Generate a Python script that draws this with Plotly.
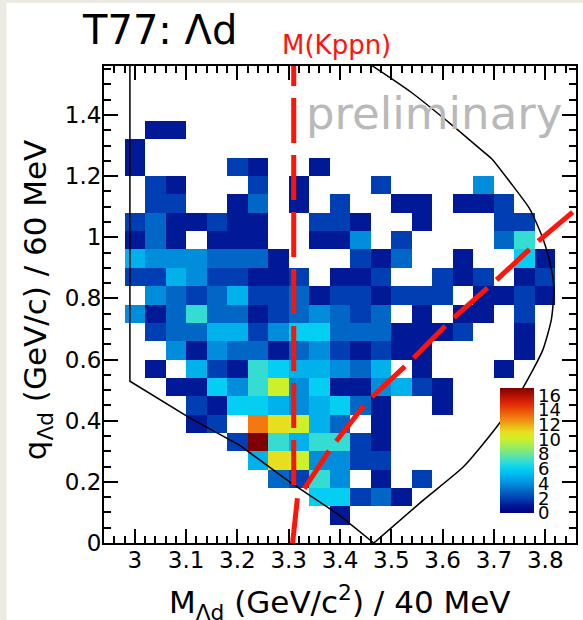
import plotly.graph_objects as go

# ---------------- data ----------------
M_BIN_CENTERS = [2.96, 3.00, 3.04, 3.08, 3.12, 3.16, 3.20, 3.24, 3.28, 3.32, 3.36, 3.40,
                 3.44, 3.48, 3.52, 3.56, 3.60, 3.64, 3.68, 3.72, 3.76, 3.80, 3.84]
Q_BIN_CENTERS = [0.03, 0.09, 0.15, 0.21, 0.27, 0.33, 0.39, 0.45, 0.51, 0.57, 0.63, 0.69, 0.75,
                 0.81, 0.87, 0.93, 0.99, 1.05, 1.11, 1.17, 1.23, 1.29, 1.35, 1.41, 1.47, 1.53]

# counts per q bin, one value per M bin (0 = empty bin)
ROW_Q003 = [0,0,0,0,0,0,0,0,0,0,0,0,0,0,0,0,0,0,0,0,0,0,0]
ROW_Q009 = [0,0,0,0,0,0,0,0,0,0,0,1,0,0,0,0,0,0,0,0,0,0,0]
ROW_Q015 = [0,0,0,0,0,0,0,0,0,0,6,6,2,3,1,0,0,0,0,0,0,0,0]
ROW_Q021 = [0,0,0,0,0,0,0,0,3,2,7,4,0,1,0,2,0,0,0,0,0,0,0]
ROW_Q027 = [0,0,0,0,0,0,0,5,11,10,4,4,2,2,0,0,0,0,0,0,0,0,0]
ROW_Q033 = [0,0,0,0,0,0,2,17,7,5,7,7,2,1,0,0,0,0,0,0,0,0,0]
ROW_Q039 = [0,0,0,0,1,2,0,13,11,10,5,3,0,1,0,0,0,0,0,0,0,0,0]
ROW_Q045 = [0,0,0,0,2,1,6,6,5,4,5,6,3,1,0,0,1,0,0,0,0,0,0]
ROW_Q051 = [0,0,0,1,1,6,4,7,10,4,6,1,1,4,5,2,1,0,0,0,0,0,0]
ROW_Q057 = [0,0,1,0,5,2,1,7,6,5,5,4,3,5,0,1,0,0,0,1,0,0,0]
ROW_Q063 = [0,0,0,4,1,4,3,3,1,3,4,2,1,2,1,1,0,0,0,0,1,0,0]
ROW_Q069 = [0,0,2,3,3,5,5,2,4,6,6,3,3,3,1,1,1,2,0,0,1,0,0]
ROW_Q075 = [0,4,1,3,7,3,3,1,2,3,4,3,2,3,0,1,0,1,1,0,2,0,0]
ROW_Q081 = [0,0,4,3,2,3,5,2,2,3,1,2,2,1,2,2,2,0,1,1,2,1,0]
ROW_Q087 = [0,2,2,5,4,2,2,1,1,2,0,1,1,2,0,0,2,1,2,0,1,2,0]
ROW_Q093 = [0,5,4,4,4,3,3,3,1,0,0,0,2,1,3,0,0,1,0,0,6,1,0]
ROW_Q099 = [0,1,3,1,0,1,1,1,0,0,1,1,4,0,2,0,0,0,0,3,7,0,0]
ROW_Q105 = [0,2,3,1,1,2,1,1,0,0,2,2,1,0,0,1,0,0,0,2,2,0,0]
ROW_Q111 = [0,0,2,2,0,0,1,3,0,1,0,2,0,0,1,1,0,1,1,2,0,0,0]
ROW_Q117 = [0,0,2,1,0,0,0,2,0,1,0,0,0,2,0,0,0,0,4,0,0,0,0]
ROW_Q123 = [0,1,0,0,0,0,2,1,0,0,1,0,0,0,0,0,0,0,0,0,0,0,0]
ROW_Q129 = [0,1,0,0,0,0,0,0,0,0,0,0,0,0,0,0,0,0,0,0,0,0,0]
ROW_Q135 = [0,0,1,1,0,0,0,0,0,0,0,0,0,0,0,0,0,0,0,0,0,0,0]
ROW_Q141 = [0,0,0,0,0,0,0,0,0,0,0,0,0,0,0,0,0,0,0,0,0,0,0]
ROW_Q147 = [0,0,0,0,0,0,0,0,0,0,0,0,0,0,0,0,0,0,0,0,0,0,0]
ROW_Q153 = [0,0,0,0,0,0,0,0,0,0,0,0,0,0,0,0,0,0,0,0,0,0,0]

COUNT_ROWS = [ROW_Q003, ROW_Q009, ROW_Q015, ROW_Q021, ROW_Q027, ROW_Q033, ROW_Q039,
              ROW_Q045, ROW_Q051, ROW_Q057, ROW_Q063, ROW_Q069, ROW_Q075, ROW_Q081,
              ROW_Q087, ROW_Q093, ROW_Q099, ROW_Q105, ROW_Q111, ROW_Q117, ROW_Q123,
              ROW_Q129, ROW_Q135, ROW_Q141, ROW_Q147, ROW_Q153]

Z_MAX = 17
COLORBAR_TICKS = [0, 2, 4, 6, 8, 10, 12, 14, 16]
M_RANGE = [2.94, 3.86]
Q_RANGE = [0.0, 1.56]
M_TICKS = [3.0, 3.1, 3.2, 3.3, 3.4, 3.5, 3.6, 3.7, 3.8]
M_TICK_LABELS = ["3", "3.1", "3.2", "3.3", "3.4", "3.5", "3.6", "3.7", "3.8"]
Q_TICKS = [0.0, 0.2, 0.4, 0.6, 0.8, 1.0, 1.2, 1.4]
Q_TICK_LABELS = ["0", "0.2", "0.4", "0.6", "0.8", "1", "1.2", "1.4"]

# M(Kppn) threshold line
M_KPPN = 3.3098
KPPN_LINE_Q = [0.19, 1.56]

# red dashed kinematic curve
RED_CURVE_M = [3.3076, 3.312, 3.317, 3.334, 3.382, 3.453, 3.537, 3.618, 3.703, 3.787, 3.868]
RED_CURVE_Q = [0.0, 0.08, 0.147, 0.187, 0.310, 0.463, 0.594, 0.731, 0.857, 0.988, 1.103]

# black kinematic boundary
LIMIT_LOW_M = [2.9905, 2.9905, 3.107, 3.204, 3.301, 3.398, 3.466]
LIMIT_LOW_Q = [1.56, 0.529, 0.409, 0.320, 0.201, 0.092, 0.0]
LIMIT_HIGH_M = [3.466, 3.563, 3.641, 3.706, 3.751, 3.795, 3.812, 3.817, 3.812, 3.796,
                3.770, 3.732, 3.696, 3.673, 3.619, 3.538, 3.460]
LIMIT_HIGH_Q = [0.0, 0.141, 0.250, 0.381, 0.491, 0.630, 0.731, 0.830, 0.895, 0.993,
                1.092, 1.179, 1.256, 1.289, 1.366, 1.475, 1.564]

# ---------------- figure ----------------
z = [[c if c > 0 else None for c in row] for row in COUNT_ROWS]

colorscale = [
    [0.00, "rgb(0,0,130)"],
    [0.06, "rgb(0,25,150)"],
    [0.12, "rgb(0,65,180)"],
    [0.18, "rgb(0,105,200)"],
    [0.24, "rgb(0,145,222)"],
    [0.30, "rgb(0,180,238)"],
    [0.36, "rgb(5,210,242)"],
    [0.42, "rgb(60,222,205)"],
    [0.50, "rgb(130,235,120)"],
    [0.59, "rgb(205,240,40)"],
    [0.65, "rgb(232,222,30)"],
    [0.76, "rgb(242,125,15)"],
    [0.88, "rgb(225,35,5)"],
    [1.00, "rgb(128,0,0)"],
]

W, H = 583, 620
L, R, T, B = 104, 5, 66, 77
PW, PH = W - L - R, H - T - B

def px_x(px):
    return (px - L) / PW

def px_y(py):
    return (H - B - py) / PH

RED = "rgb(255,20,10)"

fig = go.Figure()
fig.add_trace(go.Heatmap(
    x=M_BIN_CENTERS, y=Q_BIN_CENTERS, z=z,
    zmin=0, zmax=Z_MAX, colorscale=colorscale, hoverinfo="skip",
    colorbar=dict(
        x=px_x(502), xanchor="left", xpad=0,
        y=px_y(450.5), yanchor="middle", ypad=0,
        len=125, lenmode="pixels", thickness=34, thicknessmode="pixels",
        tickvals=COLORBAR_TICKS, ticks="", outlinewidth=0,
        tickfont=dict(family="DejaVu Sans", size=18, color="black"),
    ),
))

fig.add_trace(go.Scatter(x=LIMIT_LOW_M, y=LIMIT_LOW_Q, mode="lines",
                         line=dict(color="black", width=1.5), hoverinfo="skip"))
fig.add_trace(go.Scatter(x=LIMIT_HIGH_M, y=LIMIT_HIGH_Q, mode="lines",
                         line=dict(color="black", width=1.5, shape="spline", smoothing=0.6),
                         hoverinfo="skip"))
fig.add_trace(go.Scatter(x=RED_CURVE_M, y=RED_CURVE_Q, mode="lines",
                         line=dict(color=RED, width=5, dash="45px,12px"),
                         hoverinfo="skip"))
fig.add_trace(go.Scatter(x=[M_KPPN, M_KPPN], y=KPPN_LINE_Q, mode="lines",
                         line=dict(color=RED, width=5, dash="45px,12px"),
                         hoverinfo="skip"))

axis_common = dict(
    ticks="inside", ticklen=14, tickwidth=1.5, tickcolor="black",
    showline=True, linecolor="black", linewidth=2, mirror="ticks",
    showgrid=False, zeroline=False,
    tickfont=dict(family="DejaVu Sans", size=23, color="black"),
)

fig.update_layout(
    width=W, height=H,
    margin=dict(l=L, r=R, t=T, b=B, pad=0),
    paper_bgcolor="rgb(236,234,227)",
    plot_bgcolor="white",
    showlegend=False,
    font=dict(family="DejaVu Sans", color="black"),
    xaxis=dict(range=M_RANGE, tickmode="array", tickvals=M_TICKS, ticktext=M_TICK_LABELS,
               ticklabelstandoff=-5,
               minor=dict(ticks="inside", ticklen=7, tickwidth=1.5, tickcolor="black",
                          dtick=0.02, tick0=3.0, showgrid=False),
               **axis_common),
    yaxis=dict(range=Q_RANGE, tickmode="array", tickvals=Q_TICKS, ticktext=Q_TICK_LABELS,
               ticklabelstandoff=-4,
               minor=dict(ticks="inside", ticklen=7, tickwidth=1.5, tickcolor="black",
                          dtick=0.05, tick0=0.0, showgrid=False),
               **axis_common),
    shapes=[dict(type="rect", xref="paper", yref="paper", layer="below",
                 x0=px_x(6), x1=px_x(W + 10), y0=px_y(H + 10), y1=px_y(3),
                 fillcolor="white", line=dict(width=0))],
    annotations=[
        dict(text="T77: Λd", xref="paper", yref="paper", x=px_x(80), y=px_y(30),
             xanchor="left", yanchor="middle", showarrow=False,
             font=dict(family="DejaVu Sans", size=40, color="black")),
        dict(text="M(Kppn)", xref="x", yref="paper", x=M_KPPN, xshift=-14, y=px_y(45),
             xanchor="left", yanchor="middle", showarrow=False,
             font=dict(family="DejaVu Sans", size=26, color=RED)),
        dict(text="preliminary", xref="paper", yref="paper", x=px_x(566), y=px_y(114),
             xanchor="right", yanchor="middle", showarrow=False,
             font=dict(family="DejaVu Sans", size=45, color="rgb(185,185,185)")),
        dict(text="M<sub>Λd</sub> (GeV/c<sup>2</sup>) / 40 MeV", xref="paper", yref="paper",
             x=0.5, y=px_y(602), xanchor="center", yanchor="middle", showarrow=False,
             font=dict(family="DejaVu Sans", size=31, color="black")),
        dict(text="q<sub>Λd</sub> (GeV/c) / 60 MeV", xref="paper", yref="paper",
             x=px_x(37), y=px_y(300), xanchor="center", yanchor="middle", textangle=-90,
             showarrow=False, font=dict(family="DejaVu Sans", size=31, color="black")),
    ],
)

fig.write_html("out.html",
               config={"displayModeBar": False},
               post_script="document.body.style.margin='0px';"
                           "document.body.style.overflow='hidden';")
